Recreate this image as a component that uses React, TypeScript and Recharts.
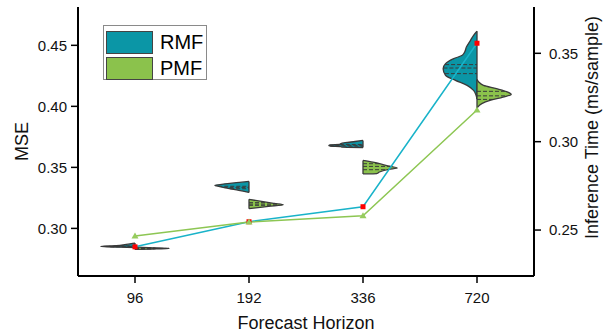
import React from "react";
import {
  ComposedChart,
  Line,
  Area,
  XAxis,
  YAxis,
  Legend,
  ReferenceLine,
} from "recharts";

const HORIZONS = ["96", "192", "336", "720"];

// inference time (ms/sample), right axis
const RMF_TIME = [0.2405, 0.2547, 0.2632, 0.3557];
const PMF_TIME = [0.2466, 0.2545, 0.2581, 0.3179];

// violin outlines per horizon: [mse, relative half-width]
const RMF_VIOLINS: [number, number][][] = [
  [[0.2843, 0], [0.2846, 0.45], [0.2852, 1.0], [0.2858, 0.55], [0.2866, 0.3], [0.2873, 0.15], [0.288, 0]],
  [[0.3295, 0], [0.3312, 0.3], [0.3328, 0.61], [0.3348, 0.95], [0.3353, 1.0], [0.3359, 0.85], [0.3369, 0.56], [0.3377, 0.28], [0.3385, 0]],
  [[0.3663, 0], [0.3666, 0.62], [0.3671, 0.66], [0.3674, 0.95], [0.368, 1.0], [0.3685, 0.95], [0.3688, 0.68], [0.3693, 0.66], [0.3702, 0.52], [0.3712, 0.23], [0.3721, 0]],
  [[0.406, 0], [0.4092, 0.03], [0.4131, 0.1], [0.4172, 0.29], [0.4213, 0.63], [0.4254, 0.92], [0.4309, 0.99], [0.435, 0.92], [0.4391, 0.68], [0.4418, 0.43], [0.4445, 0.36], [0.4486, 0.31], [0.4541, 0.19], [0.4582, 0.1], [0.4615, 0]],
];
const PMF_VIOLINS: [number, number][][] = [
  [[0.2828, 0], [0.2831, 0.5], [0.2836, 1.0], [0.2842, 0.4], [0.2848, 0]],
  [[0.3162, 0], [0.3168, 0.2], [0.318, 0.57], [0.3194, 1.0], [0.3205, 0.74], [0.3221, 0.37], [0.3238, 0]],
  [[0.3446, 0], [0.3449, 0.4], [0.3462, 0.48], [0.3484, 0.76], [0.3494, 1.0], [0.3516, 0.67], [0.3543, 0.29], [0.3557, 0]],
  [[0.3984, 0], [0.3994, 0.02], [0.4022, 0.14], [0.4049, 0.38], [0.4076, 0.76], [0.4098, 1.0], [0.4117, 0.9], [0.4145, 0.57], [0.4172, 0.19], [0.42, 0.05], [0.422, 0]],
];

// [q1, median, q3]
const RMF_QUARTILES = [
  [0.2849, 0.2853, 0.2857],
  [0.3325, 0.3336, 0.3345],
  [0.3674, 0.3681, 0.3688],
  [0.4268, 0.4314, 0.4342],
];
const PMF_QUARTILES = [
  [0.2832, 0.2836, 0.284],
  [0.3189, 0.3199, 0.3211],
  [0.3481, 0.3508, 0.353],
  [0.4057, 0.4086, 0.4123],
];

const MSE_TICKS = [0.3, 0.35, 0.4, 0.45];
const TIME_TICKS = [0.25, 0.3, 0.35];
const MSE_DOMAIN: [number, number] = [0.261, 0.4814];
const TIME_DOMAIN: [number, number] = [0.224, 0.3762];

const W = 609;
const H = 332;
const PLOT = { top: 7, left: 78, right: 75, bottom: 56 };
const HALF_WIDTH = 0.3;
const CAT_PAD = 57;

const RMF_FILL = "#0b96a6";
const PMF_FILL = "#8bc24c";
const RMF_LINE = "#19b3c9";
const PMF_LINE = "#8dc653";
const OUTLINE = "#3a3a3a";
const FONT = "'Liberation Sans', Arial, sans-serif";

const table = HORIZONS.map((h, i) => ({ horizon: h, rmf: RMF_TIME[i], pmf: PMF_TIME[i] }));

function halfData(outline: [number, number][], center: number, side: number) {
  return outline.map(([mse, d]) => ({
    mse,
    range: side < 0 ? [center - d * HALF_WIDTH, center] : [center, center + d * HALF_WIDTH],
  }));
}

function widthAt(outline: [number, number][], q: number) {
  for (let i = 1; i < outline.length; i++) {
    const [m0, d0] = outline[i - 1];
    const [m1, d1] = outline[i];
    if (q >= m0 && q <= m1) return d0 + ((q - m0) / (m1 - m0)) * (d1 - d0);
  }
  return 0;
}

const LEGEND_ITEMS = [
  { name: "RMF", fill: RMF_FILL },
  { name: "PMF", fill: PMF_FILL },
];

function LegendBox() {
  return (
    <div
      style={{
        boxSizing: "border-box",
        width: 104,
        height: 55,
        border: "1px solid #8a8a8a",
        background: "#fff",
        padding: "3px 0 0 2px",
        fontFamily: FONT,
      }}
    >
      {LEGEND_ITEMS.map((it) => (
        <div key={it.name} style={{ display: "flex", alignItems: "center", height: 26 }}>
          <span
            style={{
              boxSizing: "border-box",
              display: "inline-block",
              width: 47,
              height: 23,
              background: it.fill,
              border: "1px solid #444",
            }}
          />
          <span style={{ marginLeft: 7, fontSize: 20, lineHeight: "23px", color: "#000" }}>{it.name}</span>
        </div>
      ))}
    </div>
  );
}

const SquareDot = (props: any) => {
  const { cx, cy, index } = props;
  return <rect key={`sq-${index}`} x={cx - 2.5} y={cy - 2.5} width={5} height={5} fill="#ff0000" />;
};

const TriangleDot = (props: any) => {
  const { cx, cy, index } = props;
  return (
    <path
      key={`tr-${index}`}
      d={`M${cx},${cy - 3.5} L${cx + 3.5},${cy + 2.5} L${cx - 3.5},${cy + 2.5} Z`}
      fill="#96cc5e"
    />
  );
};

const axisLine = { stroke: "#000", strokeWidth: 2 };
const tickLine = { stroke: "#000", strokeWidth: 1.5 };
const tickStyle = { fontSize: 15, fill: "#111", fontFamily: FONT };

export default function App() {
  const halves = [
    ...RMF_VIOLINS.map((o, i) => ({ key: `rmf-${i}`, data: halfData(o, i + 1, -1), fill: RMF_FILL })),
    ...PMF_VIOLINS.map((o, i) => ({ key: `pmf-${i}`, data: halfData(o, i + 1, 1), fill: PMF_FILL })),
  ];

  const quartileSegments: { key: string; x0: number; x1: number; y: number }[] = [];
  RMF_QUARTILES.forEach((qs, i) =>
    qs.forEach((q, j) => {
      const w = widthAt(RMF_VIOLINS[i], q) * HALF_WIDTH;
      quartileSegments.push({ key: `rq-${i}-${j}`, x0: i + 1 - w, x1: i + 1, y: q });
    })
  );
  PMF_QUARTILES.forEach((qs, i) =>
    qs.forEach((q, j) => {
      const w = widthAt(PMF_VIOLINS[i], q) * HALF_WIDTH;
      quartileSegments.push({ key: `pq-${i}-${j}`, x0: i + 1, x1: i + 1 + w, y: q });
    })
  );

  return (
    <div style={{ position: "absolute", left: 0, top: 0, width: W, height: H, background: "#fff" }}>
      {/* violins, drawn sideways in a vertical-layout chart behind the main one */}
      <div style={{ position: "absolute", left: 0, top: 0 }}>
        <ComposedChart
          layout="vertical"
          width={W}
          height={H}
          margin={{ top: PLOT.top, right: PLOT.right, bottom: PLOT.bottom, left: PLOT.left }}
        >
          <XAxis type="number" domain={[0.5, 4.5]} hide allowDataOverflow />
          <YAxis type="number" dataKey="mse" domain={MSE_DOMAIN} hide allowDataOverflow reversed />
          {halves.map((h) => (
            <Area
              key={h.key}
              data={h.data}
              dataKey="range"
              type="monotone"
              fill={h.fill}
              fillOpacity={1}
              stroke={OUTLINE}
              strokeWidth={1.3}
              isAnimationActive={false}
            />
          ))}
          {quartileSegments.map((s) => (
            <ReferenceLine
              key={s.key}
              segment={[
                { x: s.x0, y: s.y },
                { x: s.x1, y: s.y },
              ]}
              stroke={OUTLINE}
              strokeWidth={1}
              strokeDasharray="4 2"
            />
          ))}
        </ComposedChart>
      </div>

      <div style={{ position: "absolute", left: 0, top: 0 }}>
        <ComposedChart
          width={W}
          height={H}
          data={table}
          margin={{ top: PLOT.top, right: 0, bottom: 0, left: 0 }}
          style={{ fontFamily: FONT }}
        >
          <XAxis
            dataKey="horizon"
            height={PLOT.bottom}
            padding={{ left: CAT_PAD, right: CAT_PAD }}
            axisLine={axisLine}
            tickLine={tickLine}
            tickSize={7}
            tickMargin={9}
            tick={tickStyle}
            label={{ value: "Forecast Horizon", position: "center", dy: 19, fontSize: 18, fill: "#111" }}
          />
          <XAxis
            xAxisId="top"
            orientation="top"
            dataKey="horizon"
            height={0}
            tick={false}
            tickLine={false}
            axisLine={axisLine}
          />
          <YAxis
            yAxisId="mse"
            orientation="left"
            type="number"
            width={PLOT.left}
            domain={MSE_DOMAIN}
            ticks={MSE_TICKS}
            allowDataOverflow
            axisLine={axisLine}
            tickLine={tickLine}
            tickSize={7}
            tickMargin={4}
            tick={tickStyle}
            tickFormatter={(v: number) => v.toFixed(2)}
            label={{ value: "MSE", angle: -90, position: "center", dx: -17, fontSize: 18, fill: "#111" }}
          />
          <YAxis
            yAxisId="time"
            orientation="right"
            type="number"
            width={PLOT.right}
            domain={TIME_DOMAIN}
            ticks={TIME_TICKS}
            allowDataOverflow
            axisLine={axisLine}
            tickLine={tickLine}
            tickSize={7}
            tickMargin={8}
            tick={tickStyle}
            tickFormatter={(v: number) => v.toFixed(2)}
            label={{
              value: "Inference Time (ms/sample)",
              angle: -90,
              position: "center",
              dx: 20,
              dy: -14,
              fontSize: 18,
              fill: "#111",
            }}
          />
          <Line
            yAxisId="time"
            dataKey="rmf"
            name="RMF"
            stroke={RMF_LINE}
            strokeWidth={1.5}
            dot={SquareDot}
            activeDot={false}
            isAnimationActive={false}
          />
          <Line
            yAxisId="time"
            dataKey="pmf"
            name="PMF"
            stroke={PMF_LINE}
            strokeWidth={1.5}
            dot={TriangleDot}
            activeDot={false}
            isAnimationActive={false}
          />
          <Legend
            layout="vertical"
            align="center"
            verticalAlign="middle"
            wrapperStyle={{ left: 103, top: 25, width: "auto", height: "auto" }}
            content={() => <LegendBox />}
          />
        </ComposedChart>
      </div>
    </div>
  );
}
